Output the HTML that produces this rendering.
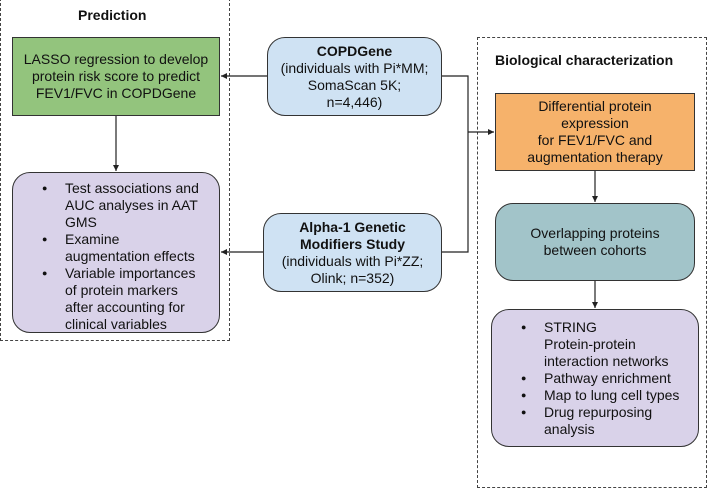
<!DOCTYPE html>
<html><head><meta charset="utf-8"><style>
body{margin:0;width:708px;height:489px;background:#fff;position:relative;font-family:"Liberation Sans",Arial,sans-serif;color:#111;overflow:hidden}
.a{position:absolute;box-sizing:border-box}
.dash{border:1.3px dashed #444}
.box{border:1.3px solid #333;display:flex;align-items:center;justify-content:center;text-align:center;font-size:14px;line-height:17px}
.r{border-radius:18px}
.t{position:absolute;font-weight:bold;font-size:14px}
ul{margin:0;padding:0;list-style:none;text-align:left;font-size:14px;line-height:17px}
li{position:relative;padding-left:0}
li:before{content:"●";position:absolute;left:-23px;font-size:9px}
</style></head><body>
<div class="a dash" style="left:0;top:-2px;width:230px;height:343px"></div>
<div class="a dash" style="left:477px;top:37px;width:230px;height:451px"></div>
<div class="t" style="left:78px;top:7px">Prediction</div>
<div class="t" style="left:495px;top:52px">Biological characterization</div>

<div class="a box" style="left:12px;top:37px;width:208px;height:79px;background:#93c47d">LASSO regression to develop<br>protein risk score to predict<br>FEV1/FVC in COPDGene</div>
<div class="a box r" style="left:12px;top:172px;width:208px;height:161px;background:#d9d2e9;justify-content:flex-start;padding-left:52px;align-items:flex-start;padding-top:7px">
<ul><li>Test associations and<br>AUC analyses in AAT<br>GMS</li><li>Examine<br>augmentation effects</li><li>Variable importances<br>of protein markers<br>after accounting for<br>clinical variables</li></ul></div>

<div class="a box r" style="left:267px;top:37px;width:175px;height:79px;background:#cfe2f3"><div><b>COPDGene</b><br>(individuals with Pi*MM;<br>SomaScan 5K;<br>n=4,446)</div></div>
<div class="a box r" style="left:263px;top:213px;width:179px;height:79px;background:#cfe2f3"><div><b>Alpha-1 Genetic<br>Modifiers Study</b><br>(individuals with Pi*ZZ;<br>Olink; n=352)</div></div>

<div class="a box" style="left:495px;top:93px;width:200px;height:78px;background:#f6b26b">Differential protein<br>expression<br>for FEV1/FVC and<br>augmentation therapy</div>
<div class="a box r" style="left:495px;top:203px;width:200px;height:78px;background:#a2c4c9">Overlapping proteins<br>between cohorts</div>
<div class="a box r" style="left:491px;top:309px;width:208px;height:138px;background:#d9d2e9;justify-content:flex-start;padding-left:52px">
<ul><li>STRING<br>Protein-protein<br>interaction networks</li><li>Pathway enrichment</li><li>Map to lung cell types</li><li>Drug repurposing<br>analysis</li></ul></div>

<svg class="a" style="left:0;top:0" width="708" height="489">
<defs><marker id="m" markerWidth="6" markerHeight="6" refX="5" refY="3" orient="auto"><path d="M0,0.5 L5,3 L0,5.5z" fill="#222"/></marker></defs>
<g stroke="#222" stroke-width="1.2" fill="none">
<line x1="267" y1="76" x2="221" y2="76" marker-end="url(#m)"/>
<line x1="263" y1="252" x2="221" y2="252" marker-end="url(#m)"/>
<line x1="116" y1="116" x2="116" y2="171" marker-end="url(#m)"/>
<polyline points="442,76 468,76 468,252 442,252"/>
<line x1="468" y1="132" x2="494" y2="132" marker-end="url(#m)"/>
<line x1="595" y1="171" x2="595" y2="202" marker-end="url(#m)"/>
<line x1="595" y1="281" x2="595" y2="308" marker-end="url(#m)"/>
</g></svg>
</body></html>
